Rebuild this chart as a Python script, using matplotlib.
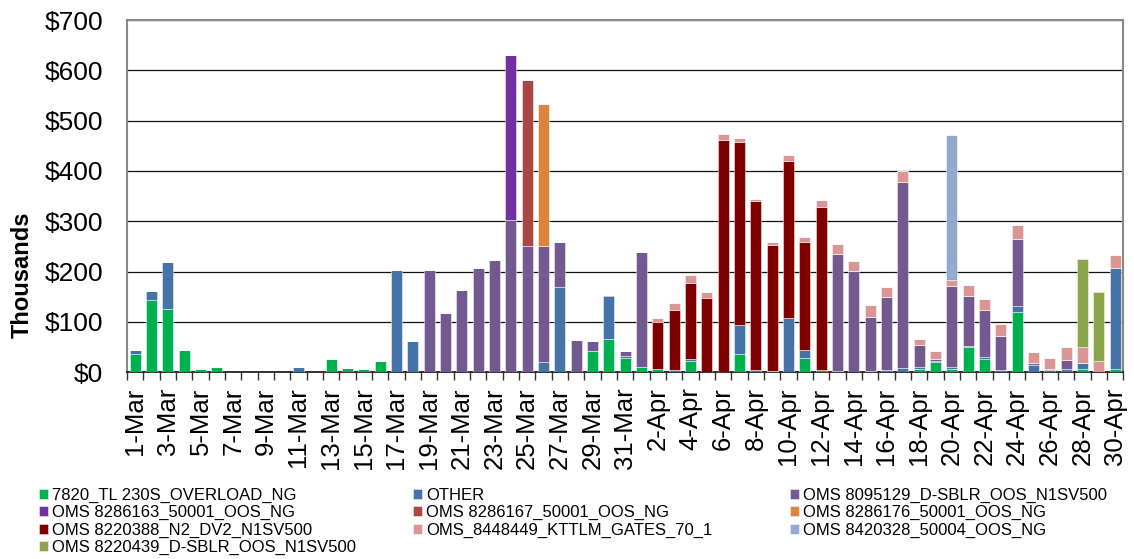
import matplotlib
matplotlib.use("Agg")
import matplotlib.pyplot as plt
import numpy as np

plt.rcParams['font.family'] = ['Liberation Sans', 'DejaVu Sans']

dates = [f"{d}-Mar" for d in range(1, 32)] + [f"{d}-Apr" for d in range(1, 31)]

series_names = [
    "7820_TL 230S_OVERLOAD_NG",
    "OTHER",
    "OMS 8095129_D-SBLR_OOS_N1SV500",
    "OMS 8286163_50001_OOS_NG",
    "OMS 8286167_50001_OOS_NG",
    "OMS 8286176_50001_OOS_NG",
    "OMS 8220388_N2_DV2_N1SV500",
    "OMS_8448449_KTTLM_GATES_70_1",
    "OMS 8420328_50004_OOS_NG",
    "OMS 8220439_D-SBLR_OOS_N1SV500",
]
colors = ["#00B050", "#4572A7", "#725A91", "#7030A0", "#AA4643",
          "#DB843D", "#800000", "#D99694", "#94A9D2", "#8BA54B"]

overload = [36, 143, 126, 44, 6, 10, 0, 1, 0, 0,
            0, 0, 26, 9, 6, 22, 0, 0, 0, 0,
            0, 0, 0, 0, 0, 0, 0, 0, 43, 67,
            29, 11, 6, 0, 22, 0, 0, 36, 0, 0,
            0, 29, 4, 0, 0, 0, 0, 0, 6, 20,
            6, 50, 26, 0, 119, 0, 0, 0, 6, 0,
            6]
other = [8, 18, 94, 0, 0, 0, 0, 0, 0, 0,
         10, 0, 0, 0, 0, 0, 203, 62, 0, 0,
         0, 0, 0, 0, 0, 20, 170, 0, 0, 85,
         3, 0, 0, 4, 4, 0, 0, 58, 4, 3,
         108, 16, 0, 2, 0, 2, 4, 8, 4, 3,
         4, 2, 4, 4, 13, 15, 4, 6, 13, 0,
         202]
sblr_8095129 = [0, 0, 0, 0, 0, 0, 0, 0, 0, 0,
                0, 0, 0, 0, 0, 0, 0, 0, 203, 117,
                163, 207, 223, 302, 250, 231, 89, 64, 20, 2,
                11, 229, 0, 0, 0, 0, 0, 0, 0, 0,
                0, 0, 0, 233, 202, 107, 146, 371, 45, 3,
                161, 100, 93, 68, 132, 3, 2, 18, 0, 0,
                0]
oos_8286163 = [0] * 23 + [328] + [0] * 37
oos_8286167 = [0] * 24 + [331] + [0] * 36
oos_8286176 = [0] * 25 + [282] + [0] * 35
dv2_8220388 = [0] * 32 + [94, 120, 152, 148, 461, 364, 336, 250, 312, 213, 325] + [0] * 18
kttlm_8448449 = [0] * 32 + [7, 13, 16, 12, 12, 8, 5, 5, 11, 10, 14, 19, 19, 25, 20, 20,
                            12, 17, 12, 21, 23, 23, 29, 22, 22, 27, 32, 22, 25]
oos_8420328 = [0] * 50 + [288] + [0] * 10
sblr_8220439 = [0] * 58 + [174, 138, 0]

data = [overload, other, sblr_8095129, oos_8286163, oos_8286167, oos_8286176,
        dv2_8220388, kttlm_8448449, oos_8420328, sblr_8220439]

W, H = 1134, 559
fig = plt.figure(figsize=(W / 100, H / 100), dpi=100)
ax = fig.add_axes([127 / W, 1 - 372.3 / H, (1123.3 - 127) / W, (372.3 - 20) / H])

x = np.arange(len(dates))
bottom = np.zeros(len(dates))
handles = []
for name, vals, c in zip(series_names, data, colors):
    v = np.array(vals, dtype=float)
    bars = ax.bar(x, v, width=0.66, bottom=bottom, color=c,
                  edgecolor=(1, 1, 1, 0.55), linewidth=0.6, label=name, zorder=3)
    handles.append(bars)
    bottom += v

ax.set_xlim(-0.5, len(dates) - 0.5)
ax.set_ylim(0, 700)
ax.set_yticks(range(0, 701, 100))
ax.set_yticklabels([f"${v}" for v in range(0, 701, 100)], fontsize=19)
ax.tick_params(axis='y', length=0, pad=17)
ax.yaxis.grid(True, color='#111111', linewidth=0.9, zorder=0)
ax.set_axisbelow(True)

ax.set_xticks(x[::2])
ax.set_xticklabels(dates[::2], rotation=90, fontsize=18.5)
ax.set_xticks(np.arange(-0.5, len(dates), 1), minor=True)
ax.tick_params(axis='x', which='major', length=0, pad=11)
ax.tick_params(axis='x', which='minor', length=6, width=1, color='#333333')

for s in ['top', 'right', 'left']:
    ax.spines[s].set_color('#888888')
    ax.spines[s].set_linewidth(1.5)
ax.spines['bottom'].set_color('#111111')
ax.spines['bottom'].set_linewidth(1.2)

ax.set_ylabel('Thousands', fontsize=17, fontweight='bold')
ax.yaxis.set_label_coords(-0.094, 0.276)

cols = [[0, 3, 6, 9], [1, 4, 7], [2, 5, 8]]
col_x = [39, 413, 790]
for ci, idxs in enumerate(cols):
    lg = fig.legend([handles[i] for i in idxs], [series_names[i] for i in idxs],
                    loc='upper left', bbox_to_anchor=(col_x[ci] / W, 1 - 488 / H),
                    frameon=False, fontsize=12, handlelength=0.55, handleheight=0.55,
                    handletextpad=0.25, labelspacing=0.13, borderpad=0, borderaxespad=0)

fig.savefig('out.png', dpi=100)
